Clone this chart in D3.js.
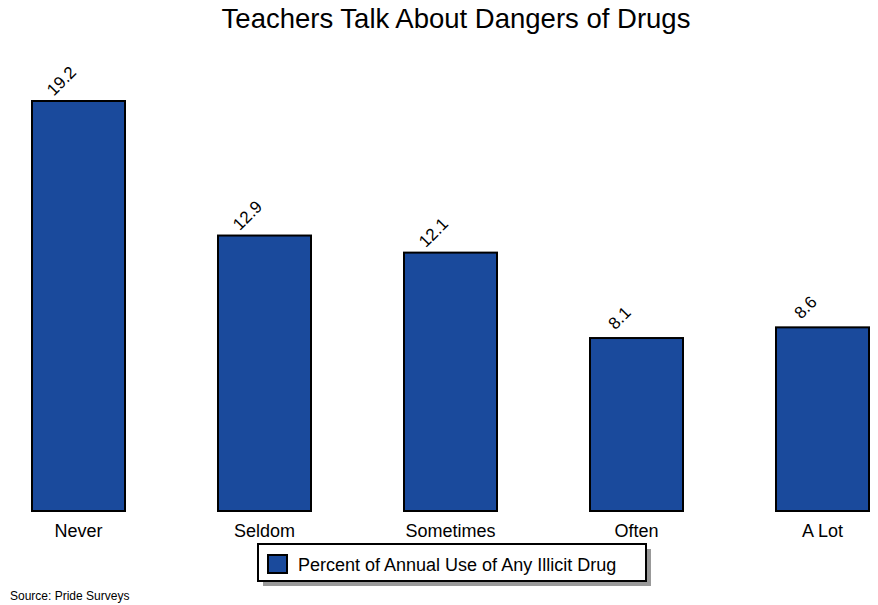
<!DOCTYPE html>
<html><head><meta charset="utf-8">
<script src="https://cdn.jsdelivr.net/npm/d3@7"></script>
<style>body{margin:0;background:#fff}svg{display:block;font-family:"Liberation Sans",Arial,sans-serif}</style>
</head><body><svg id="c" width="878" height="605"></svg>
<script>
const categories = ["Never","Seldom","Sometimes","Often","A Lot"];
const values = [19.2, 12.9, 12.1, 8.1, 8.6];
const valueLabels = ["19.2","12.9","12.1","8.1","8.6"];
const seriesName = "Percent of Annual Use of Any Illicit Drug";
const title = "Teachers Talk About Dangers of Drugs";
const source = "Source: Pride Surveys";

const svg = d3.select("#c");
const fill = "#1a4a9c";
const x = d3.scaleBand().domain(categories).range([32, 869]).paddingInner(0.5).paddingOuter(0);
const y = d3.scaleLinear().domain([0, 19.2]).range([511, 101]);

svg.append("text").attr("x", 456).attr("y", 28).attr("text-anchor","middle")
  .attr("font-size", 27.5).text(title);

svg.selectAll("rect.bar").data(values).join("rect").attr("class","bar")
  .attr("x",(d,i)=>x(categories[i])).attr("y",d=>y(d))
  .attr("width",x.bandwidth()).attr("height",d=>y(0)-y(d))
  .attr("fill",fill).attr("stroke","#000").attr("stroke-width",2);

svg.selectAll("text.val").data(values).join("text").attr("class","val")
  .attr("text-anchor","middle").attr("font-size",17)
  .attr("transform",(d,i)=>`translate(${x(categories[i])+x.bandwidth()/2-13},${y(d)-16}) rotate(-45)`)
  .text((d,i)=>valueLabels[i]);

const xAxis = d3.axisBottom(x).tickSize(0).tickPadding(0);
const ax = svg.append("g").attr("transform","translate(0,537)").call(xAxis);
ax.select(".domain").remove();
ax.selectAll("text").attr("font-size",18).attr("fill","#000").attr("dy",0)
  .style("font-family","Liberation Sans, Arial, sans-serif");

const lg = svg.append("g");
lg.append("rect").attr("x",263).attr("y",549).attr("width",388).attr("height",37).attr("fill","#999");
lg.append("rect").attr("x",258).attr("y",544).attr("width",388).attr("height",37).attr("fill","#fff").attr("stroke","#000").attr("stroke-width",2);
lg.append("rect").attr("x",268).attr("y",555).attr("width",19).attr("height",18).attr("fill",fill).attr("stroke","#000").attr("stroke-width",2);
lg.append("text").attr("x",298).attr("y",571).attr("font-size",18).text(seriesName);

svg.append("text").attr("x",10).attr("y",600).attr("font-size",12).text(source);
</script></body></html>
